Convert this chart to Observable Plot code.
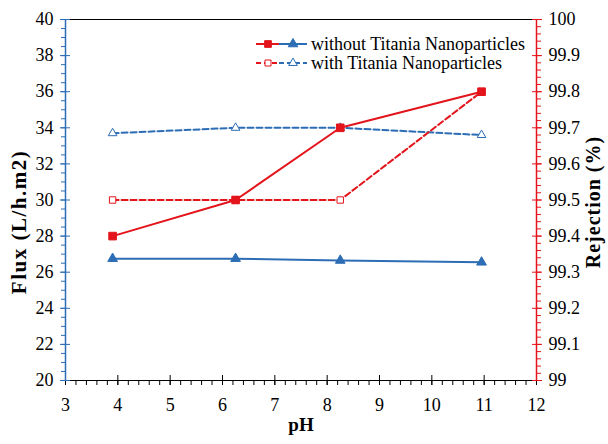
<!DOCTYPE html>
<html><head><meta charset="utf-8">
<script src="https://cdn.jsdelivr.net/npm/d3@7"></script>
<script src="https://cdn.jsdelivr.net/npm/@observablehq/plot@0.6"></script>
<style>html,body{margin:0;padding:0;background:#fff}#chart svg{display:block}</style>
</head><body><div id="chart"></div>
<script>
// ---- data ----
const pH = [3.9, 6.25, 8.25, 10.95];
const fluxWithout = [26.75, 26.75, 26.65, 26.55];
const fluxWith = [33.7, 34.0, 34.0, 33.6];
const rejWithout = [99.4, 99.5, 99.7, 99.8];
const rejWith = [99.5, 99.5, 99.5, 99.8];
const xTicks = [3, 4, 5, 6, 7, 8, 9, 10, 11, 12];
const fluxTicks = [20, 22, 24, 26, 28, 30, 32, 34, 36, 38, 40];
const rejTicks = [99, 99.1, 99.2, 99.3, 99.4, 99.5, 99.6, 99.7, 99.8, 99.9, 100];
const seriesNames = ["without Titania Nanoparticles", "with Titania Nanoparticles"];
const xLabel = "pH", fluxLabel = "Flux (L/h.m2)", rejLabel = "Rejection (%)";

const FONT = "'Liberation Serif', 'Times New Roman', serif";
const blue = "#2c6db5", red = "#e3141b";
// rejection (right axis 99..100) mapped onto flux scale (20..40)
const toFlux = r => 20 + (r - 99) * 20;
const toRej = f => 99 + (f - 20) / 20;

const rows = (vals) => pH.map((p, i) => ({pH: p, v: vals[i]}));
const fW = rows(fluxWithout), fWi = rows(fluxWith), rW = rows(rejWithout), rWi = rows(rejWith);

const xMinor = d3.range(0, 46).map(i => 3 + i * 0.2);
const fluxMinor = d3.range(0, 41).map(i => 20 + i * 0.5);
const rejMinor = d3.range(0, 51).map(i => toFlux(99 + i * 0.02));
const rejMajor = rejTicks.map(toFlux);

const svg = Plot.plot({
  width: 608, height: 444,
  marginTop: 19, marginRight: 72, marginBottom: 64, marginLeft: 65,
  style: {fontFamily: FONT, fontSize: "18px", color: "#000", background: "#fff"},
  x: {domain: [3, 12]},
  y: {domain: [20, 40]},
  marks: [
    Plot.ruleY([40], {stroke: "#000", strokeWidth: 1.2}),
    Plot.ruleY([20], {stroke: "#000", strokeWidth: 1.2}),
    // x axis
    Plot.axisX({ticks: xMinor, tickSize: 5, fill: "none", stroke: "#000", label: null}),
    Plot.axisX({ticks: xTicks, tickSize: 10, dy: -5, fill: "none", stroke: "#000", label: null}),
    Plot.axisX({ticks: xTicks, tickSize: 0, tickPadding: 18, label: null, tickFormat: d => String(d)}),
    // left axis
    Plot.ruleX([3], {stroke: blue, strokeWidth: 1.5}),
    Plot.axisY({anchor: "left", ticks: fluxMinor, tickSize: 4, fill: "none", stroke: blue, label: null}),
    Plot.axisY({anchor: "left", ticks: fluxTicks, tickSize: 10, dx: 5, fill: "none", stroke: blue, label: null}),
    Plot.axisY({anchor: "left", ticks: fluxTicks, tickSize: 0, tickPadding: 12, label: null, tickFormat: d => String(d)}),
    // right axis
    Plot.ruleX([12], {stroke: red, strokeWidth: 1.5}),
    Plot.axisY({anchor: "right", ticks: rejMinor, tickSize: 4, fill: "none", stroke: red, label: null}),
    Plot.axisY({anchor: "right", ticks: rejMajor, tickSize: 10, dx: -5, fill: "none", stroke: red, label: null}),
    Plot.axisY({anchor: "right", ticks: rejMajor, tickSize: 0, tickPadding: 12, label: null,
      tickFormat: f => String(+toRej(f).toFixed(1))}),
    // titles
    Plot.text([xLabel], {frameAnchor: "bottom", dy: 50, textAnchor: "middle", fontWeight: "bold", fontSize: 19, fontFamily: FONT}),
    Plot.text([fluxLabel], {frameAnchor: "left", dx: -46, dy: 22, textAnchor: "middle", rotate: -90, fontWeight: "bold", fontSize: 21, fontFamily: FONT}),
    Plot.text([rejLabel], {frameAnchor: "right", dx: 57, dy: 2, textAnchor: "middle", rotate: -90, fontWeight: "bold", fontSize: 20, fontFamily: FONT}),
    // series: flux (blue)
    Plot.line(fWi, {x: "pH", y: "v", stroke: blue, strokeWidth: 2, strokeDasharray: "6,3"}),
    Plot.line(fW, {x: "pH", y: "v", stroke: blue, strokeWidth: 2}),
    Plot.dot(fWi, {x: "pH", y: "v", symbol: "triangle", r: 3.2, fill: "#fff", stroke: blue, strokeWidth: 1}),
    Plot.dot(fW, {x: "pH", y: "v", symbol: "triangle", r: 3.6, fill: blue, stroke: blue, strokeWidth: 1}),
    // series: rejection (red)
    Plot.line(rWi, {x: "pH", y: d => toFlux(d.v), stroke: red, strokeWidth: 2, strokeDasharray: "6,3"}),
    Plot.line(rW, {x: "pH", y: d => toFlux(d.v), stroke: red, strokeWidth: 2}),
    Plot.dot(rWi, {x: "pH", y: d => toFlux(d.v), symbol: "square", r: 3.6, fill: "#fff", stroke: red, strokeWidth: 1}),
    Plot.dot(rW, {x: "pH", y: d => toFlux(d.v), symbol: "square", r: 4.3, fill: red, stroke: red, strokeWidth: 1})
  ]
});

// title letter spacing to match the wide reference lettering
d3.select(svg).selectAll("text").filter(function() { return this.textContent === fluxLabel; }).attr("letter-spacing", "1.5px");
d3.select(svg).selectAll("text").filter(function() { return this.textContent === rejLabel; }).attr("letter-spacing", "1px");

// legend
const lg = d3.select(svg).append("g").attr("font-family", FONT).attr("font-size", 18).attr("text-anchor", "start");
const legendRows = [
  {name: seriesNames[0], y: 44, dash: null, fill: true},
  {name: seriesNames[1], y: 63, dash: "5,3", fill: false}
];
legendRows.forEach(r => {
  lg.append("line").attr("x1", 256).attr("x2", 279).attr("y1", r.y).attr("y2", r.y)
    .attr("stroke", red).attr("stroke-width", 2).attr("stroke-dasharray", r.dash);
  lg.append("line").attr("x1", 279).attr("x2", 307).attr("y1", r.y).attr("y2", r.y)
    .attr("stroke", blue).attr("stroke-width", 2).attr("stroke-dasharray", r.dash);
  lg.append("path").attr("d", d3.symbol(d3.symbolSquare, r.fill ? 45 : 36)())
    .attr("transform", `translate(268,${r.y})`)
    .attr("fill", r.fill ? red : "#fff").attr("stroke", red).attr("stroke-width", 1);
  lg.append("path").attr("d", d3.symbol(d3.symbolTriangle, r.fill ? 40 : 32)())
    .attr("transform", `translate(293,${r.y})`)
    .attr("fill", r.fill ? blue : "#fff").attr("stroke", blue).attr("stroke-width", 1);
  lg.append("text").attr("x", 311).attr("y", r.y).attr("dy", "0.35em").attr("fill", "#000").text(r.name);
});

document.getElementById("chart").appendChild(svg);
</script>
</body></html>
